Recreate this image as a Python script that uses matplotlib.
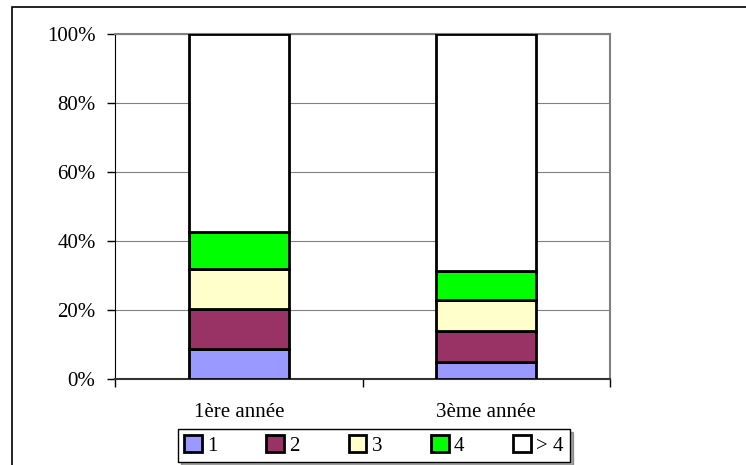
import numpy as np
import matplotlib
matplotlib.use("Agg")
import matplotlib.pyplot as plt
from matplotlib.patches import Rectangle

plt.rcParams['font.family'] = ['Liberation Serif', 'DejaVu Serif']

categories = ["1ère année", "3ème année"]
series_names = ["1", "2", "3", "4", "> 4"]
series_colors = ["#9999FF", "#993366", "#FFFFCC", "#00FF00", "#FFFFFF"]
# share of each group per year, in percent
values = [
    [8.7, 5.0],
    [11.7, 8.9],
    [11.4, 8.9],
    [10.9, 8.6],
    [57.3, 68.6],
]

fig = plt.figure(figsize=(7.46, 4.65), dpi=100)
W, H = 746, 465
ax = fig.add_axes([115 / W, 1 - 379 / H, 495 / W, 345 / H])

x = np.arange(len(categories))
bottom = np.zeros(len(categories))
handles = []
for name, col, vals in zip(series_names, series_colors, values):
    vals = np.array(vals)
    b = ax.bar(x, vals, 0.404, bottom=bottom, color=col, edgecolor="black",
               linewidth=2, label=name, zorder=3)
    handles.append(b)
    bottom += vals

ax.set_xlim(-0.5, 1.5)
ax.set_ylim(0, 100)
ax.set_yticks(np.arange(0, 101, 20))
ax.set_yticklabels([f"{v}%" for v in range(0, 101, 20)], fontsize=15)
ax.yaxis.grid(True, color="#808080", linewidth=0.8, zorder=0)
ax.set_xticks([-0.5, 0.5, 1.5])
ax.set_xticklabels([])
ax.set_xticks(x, minor=True)
ax.set_xticklabels(categories, minor=True, fontsize=15)
ax.tick_params(axis="x", which="minor", length=0, pad=17)
ax.tick_params(axis="x", which="major", length=6, width=1, direction="out")
ax.tick_params(axis="y", length=6, width=1, direction="out", pad=8)

for side in ["top", "right"]:
    ax.spines[side].set_color("#808080")
    ax.spines[side].set_linewidth(1.5)
ax.spines["left"].set_color("black")
ax.spines["bottom"].set_color("#333333")
ax.spines["bottom"].set_linewidth(1.5)

# outer chart frame
fig.add_artist(Rectangle((12 / W, -0.1), 1.2, 1 - 7 / H + 0.1, transform=fig.transFigure,
                         fill=False, edgecolor="black", linewidth=1.2))

leg = fig.legend(handles=handles, loc="lower left", ncol=5,
                 bbox_to_anchor=(178 / W, 1 - 462 / H, (570 - 178) / W, (462 - 428) / H),
                 mode="expand", borderaxespad=0, fontsize=15, frameon=True, fancybox=False,
                 shadow=True, handlelength=0.85, handleheight=0.85, handletextpad=0.25,
                 borderpad=0.3, columnspacing=1.0)
leg.get_frame().set_edgecolor("black")
leg.get_frame().set_linewidth(1.0)

fig.savefig("out.png", dpi=100)
